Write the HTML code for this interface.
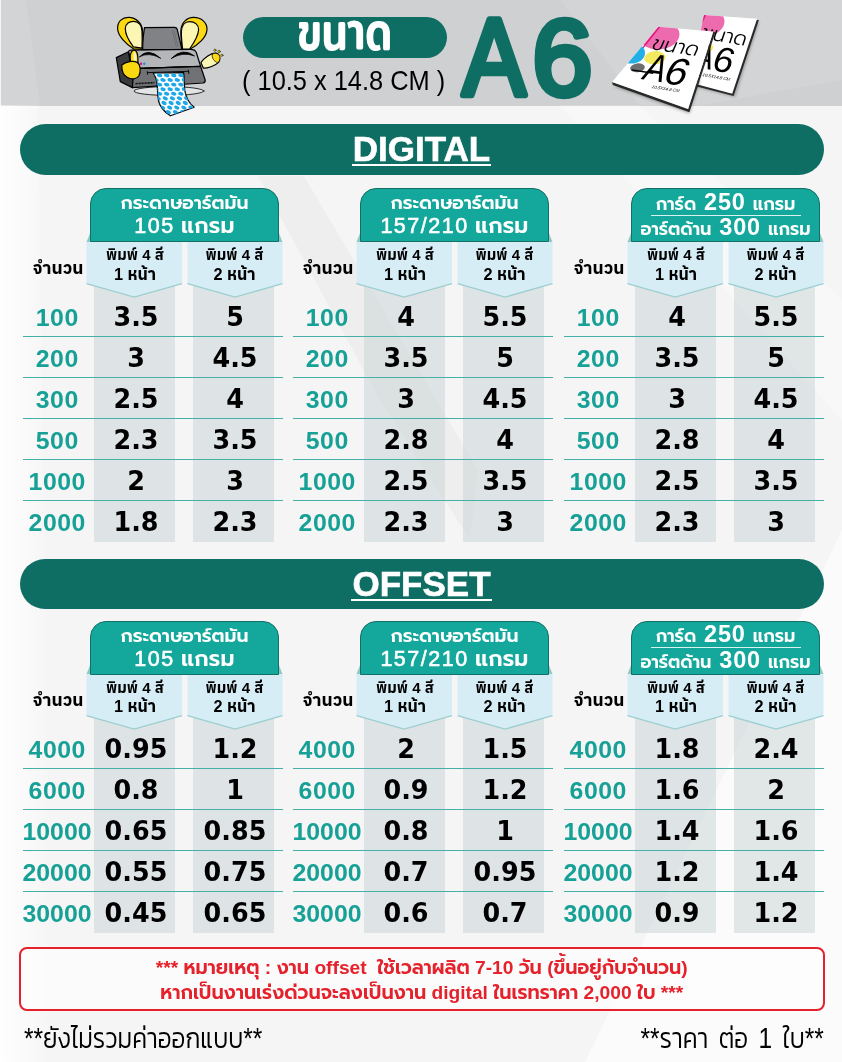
<!DOCTYPE html>
<html lang="th"><head><meta charset="utf-8"><title>A6 price</title>
<style>
html,body{margin:0;padding:0}
body{width:842px;height:1062px;position:relative;overflow:hidden;background:#f5f5f6;font-family:"Liberation Sans","Noto Sans Thai",sans-serif}
.abs{position:absolute}
.band{position:absolute;left:1px;top:0;width:841px;height:105.5px;background:#cfd0d1}
.bar{position:absolute;left:19.5px;width:804px;height:50.5px;border-radius:26px;background:#0f6e63;color:#fff;text-align:center;font-weight:bold;font-size:35px;line-height:50px}
.bar span{display:inline-block;border-bottom:2px solid #fff;line-height:27px;padding:0 1px 2px;-webkit-text-stroke:0.6px #fff}
.thead{position:absolute;width:187px;height:52px;border:1px solid #146f65;border-radius:16px 16px 0 0;background:#13a89b;color:#fff;text-align:center;font-family:"Liberation Sans","Prompt","Kanit","Noto Sans Thai","Loma",sans-serif;font-weight:600}
.h1{font-size:18.8px;line-height:26px;margin-top:1px;white-space:nowrap}
.h2{font-size:22px;line-height:24px;margin-top:-2px;white-space:nowrap;letter-spacing:0.2px}
.d{font-weight:400;font-size:21.5px;-webkit-text-stroke:0.6px #fff;letter-spacing:1.5px}
.h3a,.h3b{font-size:17.8px;line-height:24px;white-space:nowrap}
.h3a{margin-top:3.8px;line-height:19.8px}
.h3b{margin-top:-0.3px}
.h3a b,.h3b b{font-size:23.5px;font-weight:700;letter-spacing:0.8px;margin:0 2px 0 3px}
.hr{height:1px;background:#d8f0ee;width:150px;margin:0 auto}
.gcol{position:absolute;width:81px;background:rgba(200,210,212,.5)}
.btxt{position:absolute;width:100px;text-align:center;font-family:"Liberation Sans","Anuphan","Noto Sans Thai UI","Noto Sans Thai","Kanit","Loma",sans-serif;font-weight:700;font-size:15px;line-height:19.5px;color:#000;white-space:nowrap}
.b2{font-size:16.3px}
.qty{position:absolute;width:80px;text-align:center;font-family:"Liberation Sans","Anuphan","Noto Sans Thai UI","Noto Sans Thai","Kanit","Loma",sans-serif;font-weight:700;font-size:17.6px;line-height:24px;color:#000;white-space:nowrap}
.q{position:absolute;width:90px;text-align:center;font-family:"Liberation Sans",sans-serif;font-weight:bold;font-size:23px;line-height:30px;color:#17a196;letter-spacing:0.5px;text-indent:0.5px;transform:scaleX(1.08);white-space:nowrap}
.q5{letter-spacing:0;text-indent:0}
.v{position:absolute;width:90px;text-align:center;font-family:"DejaVu Sans","Liberation Sans",sans-serif;font-weight:bold;font-size:26.5px;line-height:34px;color:#000;white-space:nowrap;transform:scaleX(.96)}
.ln{position:absolute;width:259.5px;height:1.6px;background:#45b0a8}
.note{position:absolute;left:18.5px;top:947.3px;width:802.5px;height:60px;border:2px solid #e5212b;border-radius:8px;background:rgba(255,255,255,.6);color:#e5212b;text-align:center;font-family:"Liberation Sans","Prompt","Kanit","Noto Sans Thai","Loma",sans-serif;font-weight:600;font-size:19.2px;line-height:25px;white-space:nowrap}
.foot{position:absolute;top:1018.3px;font-family:"Liberation Sans","Kanit","Prompt","Noto Sans Thai",sans-serif;font-weight:300;font-size:29.5px;line-height:40px;color:#000;white-space:nowrap;transform:scaleX(.83)}
.pill{position:absolute;left:242.5px;top:17px;width:204px;height:41px;border-radius:21px;background:#0f6e63;color:#fff;text-align:center;font-family:"Liberation Sans","Mitr","Kanit","Noto Sans Thai",sans-serif;font-weight:500;font-size:53px;line-height:41px}
.pill span{display:inline-block;transform:scaleX(.775);position:relative;top:-6px}
.dim{position:absolute;left:241.5px;top:64px;font-size:28px;line-height:34px;color:#000;white-space:nowrap;transform:scaleX(.907);transform-origin:0 0}
</style></head><body>
<div class="band"></div>
<svg class="abs" style="left:0;top:0" width="842" height="1062" viewBox="0 0 842 1062">
<defs>
<linearGradient id="lg1" x1="0" x2="1" y1="0" y2="0"><stop offset="0" stop-color="#fff" stop-opacity=".95"/><stop offset="1" stop-color="#fff" stop-opacity="0"/></linearGradient>
<linearGradient id="lg2" x1="0" x2="1" y1="0" y2="1"><stop offset="0" stop-color="#fff" stop-opacity="0"/><stop offset="1" stop-color="#fff" stop-opacity=".7"/></linearGradient>
</defs>
<polygon points="1,0 26,0 40,105.5 1,105.5" fill="#fff" opacity=".10"/>
<polygon points="560,0 842,0 842,80 700,105.5 640,105.5" fill="#fff" opacity=".10"/>
<polygon points="0,105.5 38,105.5 52,1062 0,1062" fill="url(#lg1)"/>
<polygon points="258,176 304,176 478,470 470,540 380,400" fill="#000" opacity=".028"/>
<polygon points="842,530 842,1062 585,1062" fill="#fff" opacity=".55"/>
<polygon points="560,105.5 640,105.5 842,300 842,420" fill="#fff" opacity=".35"/>
</svg>

<svg class="abs" style="left:100px;top:0" width="140" height="120" viewBox="100 0 140 120">
<g stroke="#000" stroke-width="1.2" stroke-linejoin="round" stroke-linecap="round">
<!-- base ellipse -->
<ellipse cx="169" cy="91" rx="35" ry="4.4" fill="#e3e4e5" stroke-width="0.8"/>
<!-- tray -->
<path d="M144.5,27.6 L174.5,27.4 Q176.5,27.4 177.2,29.3 L182,49.5 L141.5,49.5 Z" fill="#808285"/>
<path d="M172.3,30.5 L176.2,46.5 M174,30.5 L177.9,46.5" fill="none" stroke="#55565a" stroke-width="0.4"/>
<!-- left side face -->
<path d="M116.3,57.6 L128.5,51.8 L133,80 L132.4,87.6 L120.3,81.6 Z" fill="#3b3b3e"/>
<!-- top face -->
<path d="M128.5,51.8 Q129,50.3 131,50.2 L190.5,49.4 Q195,49.4 196.3,52.5 L200.6,66.3 L133.8,68.6 Z" fill="#b4b6b9"/>
<!-- front face -->
<path d="M133.8,68.6 L200.6,66.3 L205.2,80 Q205.6,82.3 203,83 L132.4,87.6 Z" fill="#717275"/>
<path d="M133.8,68.6 L200.6,66.3" fill="none" stroke-width="1.1"/>
<!-- slot -->
<path d="M147.3,71.6 L147.6,74.3 M147.3,72.6 L188.5,71.3 M188.5,70.2 L188.8,73.6" fill="none" stroke-width="0.9"/>
<!-- brand squiggle -->
<path d="M135.5,83.7 L154.5,82.6" fill="none" stroke="#111" stroke-width="1.6" stroke-dasharray="2.2 0.8" stroke-linecap="butt"/>
<!-- eyes -->
<path d="M139.5,56.8 Q148.5,47.2 160.8,58.4 Q148.8,51.6 139.5,56.8 Z" fill="#000" stroke-width="0.7"/>
<path d="M171.4,58.4 Q182.5,46.8 194.6,56 Q182.8,51.4 171.4,58.4 Z" fill="#000" stroke-width="0.7"/>
<!-- dots -->
<circle cx="141" cy="63.7" r="1.25" fill="#d6147f" stroke="none"/>
<circle cx="144.3" cy="63.7" r="1.25" fill="#1597d4" stroke="none"/>
<!-- left ear -->
<path d="M133.4,48.8 C126,44 117.8,36 117.6,28.5 C117.5,21 122.5,17.3 128.5,17.4 C136,17.6 142,23 142.6,31 C143,37 142.9,44 142.7,49.2 Z" fill="#fcd813"/>
<path d="M133.4,46.8 C129,41 125.2,34 125.3,28.5 C125.5,23.5 129.5,21.2 133.5,21.3 C138.5,21.5 141.8,25 142,31 C142.3,37 142.2,43 142,48.2 Z" fill="#fcf6b5"/>
<!-- right ear -->
<path d="M182.2,49.2 C181.5,43 180.6,36 180.9,30.5 C181.5,22.5 187,17.4 193.5,17.4 C201.5,17.4 207.2,22.5 207,29.5 C206.6,38 197,45.5 189.8,49.3 Z" fill="#fcd813"/>
<path d="M182.6,49 C181.9,43 181.2,36.5 181.4,31.5 C181.8,25.5 185,21.6 189.5,21.6 C195,21.6 198.8,25 198.6,29.8 C198.3,36 193.5,43.5 189.6,49 Z" fill="#fcf6b5"/>
<!-- thumb -->
<path d="M130.6,61.5 C129.8,57 130.2,52 133.2,50.2 C136.2,49.5 137.6,53 137.8,57 L138,62.5 Z" fill="#fcd813"/>
<path d="M134.2,51.5 C136,52 136.6,56 136.6,61 L133.6,60.5 C133.2,57 133.2,53.5 134.2,51.5 Z" fill="#fcf6b5" stroke="none"/>
<!-- fist -->
<path d="M121.8,65 C126,61.5 133,60.5 137,62.2 C140.5,64.5 141.2,71.5 138.8,76 C136.5,79.5 131.5,79.6 127.5,77.5 C123.5,75.5 121.6,70.5 121.8,65 Z" fill="#fcd813"/>
<!-- right hand -->
<path d="M200.9,62.6 C204,58 211,52.6 216,53.2 C219.8,54 220.8,59 218.6,62.4 C215,66 207,68.4 203.4,68.2 Z" fill="#fcf6b5"/>
<path d="M212.2,54.2 C214.5,52.6 218.5,53 219.8,56.5 C220.4,59.5 219.3,61.8 217.6,62.6 C214,61.5 211.6,58 212.2,54.2 Z" fill="#fcd813" stroke-width="0.7"/>
<circle cx="214.9" cy="50.2" r="1.15" fill="#fcd813" stroke-width="0.5"/>
<circle cx="219.1" cy="51.5" r="1.2" fill="#fcd813" stroke-width="0.5"/>
<circle cx="221.9" cy="55.3" r="1.1" fill="#fcd813" stroke-width="0.5"/>
<!-- paper -->
<path id="pp" d="M153.3,73 L183.7,72.6 C184.2,78 184.2,85 184.8,90.6 C186,98 190,104 194.2,107.2 L170.4,115.8 C164.5,112 160,107 158.6,101 C157.4,95 157.6,88 157,83 C156.5,78.5 155,75.5 153.3,73 Z" fill="#fff"/>
</g>
<clipPath id="ppc"><path d="M153.3,73 L183.7,72.6 C184.2,78 184.2,85 184.8,90.6 C186,98 190,104 194.2,107.2 L170.4,115.8 C164.5,112 160,107 158.6,101 C157.4,95 157.6,88 157,83 C156.5,78.5 155,75.5 153.3,73 Z"/></clipPath>
<g clip-path="url(#ppc)" fill="#1ea8ea">
<ellipse cx="145.4" cy="75.4" rx="2.75" ry="1.85" transform="rotate(12 145.4 75.4)"/>
<ellipse cx="152.5" cy="75.4" rx="2.75" ry="1.85" transform="rotate(12 152.5 75.4)"/>
<ellipse cx="159.6" cy="75.4" rx="2.75" ry="1.85" transform="rotate(12 159.6 75.4)"/>
<ellipse cx="166.7" cy="75.4" rx="2.75" ry="1.85" transform="rotate(12 166.7 75.4)"/>
<ellipse cx="173.8" cy="75.4" rx="2.75" ry="1.85" transform="rotate(12 173.8 75.4)"/>
<ellipse cx="180.9" cy="75.4" rx="2.75" ry="1.85" transform="rotate(12 180.9 75.4)"/>
<ellipse cx="188.0" cy="75.4" rx="2.75" ry="1.85" transform="rotate(12 188.0 75.4)"/>
<ellipse cx="195.1" cy="75.4" rx="2.75" ry="1.85" transform="rotate(12 195.1 75.4)"/>
<ellipse cx="148.9" cy="80.0" rx="2.75" ry="1.85" transform="rotate(12 148.9 80.0)"/>
<ellipse cx="156.0" cy="80.0" rx="2.75" ry="1.85" transform="rotate(12 156.0 80.0)"/>
<ellipse cx="163.1" cy="80.0" rx="2.75" ry="1.85" transform="rotate(12 163.1 80.0)"/>
<ellipse cx="170.2" cy="80.0" rx="2.75" ry="1.85" transform="rotate(12 170.2 80.0)"/>
<ellipse cx="177.3" cy="80.0" rx="2.75" ry="1.85" transform="rotate(12 177.3 80.0)"/>
<ellipse cx="184.4" cy="80.0" rx="2.75" ry="1.85" transform="rotate(12 184.4 80.0)"/>
<ellipse cx="191.5" cy="80.0" rx="2.75" ry="1.85" transform="rotate(12 191.5 80.0)"/>
<ellipse cx="198.6" cy="80.0" rx="2.75" ry="1.85" transform="rotate(12 198.6 80.0)"/>
<ellipse cx="145.4" cy="84.6" rx="2.75" ry="1.85" transform="rotate(12 145.4 84.6)"/>
<ellipse cx="152.5" cy="84.6" rx="2.75" ry="1.85" transform="rotate(12 152.5 84.6)"/>
<ellipse cx="159.6" cy="84.6" rx="2.75" ry="1.85" transform="rotate(12 159.6 84.6)"/>
<ellipse cx="166.7" cy="84.6" rx="2.75" ry="1.85" transform="rotate(12 166.7 84.6)"/>
<ellipse cx="173.8" cy="84.6" rx="2.75" ry="1.85" transform="rotate(12 173.8 84.6)"/>
<ellipse cx="180.9" cy="84.6" rx="2.75" ry="1.85" transform="rotate(12 180.9 84.6)"/>
<ellipse cx="188.0" cy="84.6" rx="2.75" ry="1.85" transform="rotate(12 188.0 84.6)"/>
<ellipse cx="195.1" cy="84.6" rx="2.75" ry="1.85" transform="rotate(12 195.1 84.6)"/>
<ellipse cx="148.9" cy="89.2" rx="2.75" ry="1.85" transform="rotate(12 148.9 89.2)"/>
<ellipse cx="156.0" cy="89.2" rx="2.75" ry="1.85" transform="rotate(12 156.0 89.2)"/>
<ellipse cx="163.1" cy="89.2" rx="2.75" ry="1.85" transform="rotate(12 163.1 89.2)"/>
<ellipse cx="170.2" cy="89.2" rx="2.75" ry="1.85" transform="rotate(12 170.2 89.2)"/>
<ellipse cx="177.3" cy="89.2" rx="2.75" ry="1.85" transform="rotate(12 177.3 89.2)"/>
<ellipse cx="184.4" cy="89.2" rx="2.75" ry="1.85" transform="rotate(12 184.4 89.2)"/>
<ellipse cx="191.5" cy="89.2" rx="2.75" ry="1.85" transform="rotate(12 191.5 89.2)"/>
<ellipse cx="198.6" cy="89.2" rx="2.75" ry="1.85" transform="rotate(12 198.6 89.2)"/>
<ellipse cx="145.4" cy="93.8" rx="2.75" ry="1.85" transform="rotate(12 145.4 93.8)"/>
<ellipse cx="152.5" cy="93.8" rx="2.75" ry="1.85" transform="rotate(12 152.5 93.8)"/>
<ellipse cx="159.6" cy="93.8" rx="2.75" ry="1.85" transform="rotate(12 159.6 93.8)"/>
<ellipse cx="166.7" cy="93.8" rx="2.75" ry="1.85" transform="rotate(12 166.7 93.8)"/>
<ellipse cx="173.8" cy="93.8" rx="2.75" ry="1.85" transform="rotate(12 173.8 93.8)"/>
<ellipse cx="180.9" cy="93.8" rx="2.75" ry="1.85" transform="rotate(12 180.9 93.8)"/>
<ellipse cx="188.0" cy="93.8" rx="2.75" ry="1.85" transform="rotate(12 188.0 93.8)"/>
<ellipse cx="195.1" cy="93.8" rx="2.75" ry="1.85" transform="rotate(12 195.1 93.8)"/>
<ellipse cx="151.1" cy="98.4" rx="2.75" ry="1.85" transform="rotate(25 151.1 98.4)"/>
<ellipse cx="158.2" cy="98.4" rx="2.75" ry="1.85" transform="rotate(25 158.2 98.4)"/>
<ellipse cx="165.3" cy="98.4" rx="2.75" ry="1.85" transform="rotate(25 165.3 98.4)"/>
<ellipse cx="172.4" cy="98.4" rx="2.75" ry="1.85" transform="rotate(25 172.4 98.4)"/>
<ellipse cx="179.5" cy="98.4" rx="2.75" ry="1.85" transform="rotate(25 179.5 98.4)"/>
<ellipse cx="186.6" cy="98.4" rx="2.75" ry="1.85" transform="rotate(25 186.6 98.4)"/>
<ellipse cx="193.7" cy="98.4" rx="2.75" ry="1.85" transform="rotate(25 193.7 98.4)"/>
<ellipse cx="200.8" cy="98.4" rx="2.75" ry="1.85" transform="rotate(25 200.8 98.4)"/>
<ellipse cx="149.8" cy="103.0" rx="2.75" ry="1.85" transform="rotate(25 149.8 103.0)"/>
<ellipse cx="156.9" cy="103.0" rx="2.75" ry="1.85" transform="rotate(25 156.9 103.0)"/>
<ellipse cx="164.0" cy="103.0" rx="2.75" ry="1.85" transform="rotate(25 164.0 103.0)"/>
<ellipse cx="171.1" cy="103.0" rx="2.75" ry="1.85" transform="rotate(25 171.1 103.0)"/>
<ellipse cx="178.2" cy="103.0" rx="2.75" ry="1.85" transform="rotate(25 178.2 103.0)"/>
<ellipse cx="185.3" cy="103.0" rx="2.75" ry="1.85" transform="rotate(25 185.3 103.0)"/>
<ellipse cx="192.4" cy="103.0" rx="2.75" ry="1.85" transform="rotate(25 192.4 103.0)"/>
<ellipse cx="199.5" cy="103.0" rx="2.75" ry="1.85" transform="rotate(25 199.5 103.0)"/>
<ellipse cx="155.5" cy="107.6" rx="2.75" ry="1.85" transform="rotate(25 155.5 107.6)"/>
<ellipse cx="162.6" cy="107.6" rx="2.75" ry="1.85" transform="rotate(25 162.6 107.6)"/>
<ellipse cx="169.7" cy="107.6" rx="2.75" ry="1.85" transform="rotate(25 169.7 107.6)"/>
<ellipse cx="176.8" cy="107.6" rx="2.75" ry="1.85" transform="rotate(25 176.8 107.6)"/>
<ellipse cx="183.9" cy="107.6" rx="2.75" ry="1.85" transform="rotate(25 183.9 107.6)"/>
<ellipse cx="191.0" cy="107.6" rx="2.75" ry="1.85" transform="rotate(25 191.0 107.6)"/>
<ellipse cx="198.1" cy="107.6" rx="2.75" ry="1.85" transform="rotate(25 198.1 107.6)"/>
<ellipse cx="205.2" cy="107.6" rx="2.75" ry="1.85" transform="rotate(25 205.2 107.6)"/>
<ellipse cx="154.2" cy="112.2" rx="2.75" ry="1.85" transform="rotate(25 154.2 112.2)"/>
<ellipse cx="161.3" cy="112.2" rx="2.75" ry="1.85" transform="rotate(25 161.3 112.2)"/>
<ellipse cx="168.4" cy="112.2" rx="2.75" ry="1.85" transform="rotate(25 168.4 112.2)"/>
<ellipse cx="175.5" cy="112.2" rx="2.75" ry="1.85" transform="rotate(25 175.5 112.2)"/>
<ellipse cx="182.6" cy="112.2" rx="2.75" ry="1.85" transform="rotate(25 182.6 112.2)"/>
<ellipse cx="189.7" cy="112.2" rx="2.75" ry="1.85" transform="rotate(25 189.7 112.2)"/>
<ellipse cx="196.8" cy="112.2" rx="2.75" ry="1.85" transform="rotate(25 196.8 112.2)"/>
<ellipse cx="203.9" cy="112.2" rx="2.75" ry="1.85" transform="rotate(25 203.9 112.2)"/>
<ellipse cx="159.9" cy="116.8" rx="2.75" ry="1.85" transform="rotate(25 159.9 116.8)"/>
<ellipse cx="167.0" cy="116.8" rx="2.75" ry="1.85" transform="rotate(25 167.0 116.8)"/>
<ellipse cx="174.1" cy="116.8" rx="2.75" ry="1.85" transform="rotate(25 174.1 116.8)"/>
<ellipse cx="181.2" cy="116.8" rx="2.75" ry="1.85" transform="rotate(25 181.2 116.8)"/>
<ellipse cx="188.3" cy="116.8" rx="2.75" ry="1.85" transform="rotate(25 188.3 116.8)"/>
<ellipse cx="195.4" cy="116.8" rx="2.75" ry="1.85" transform="rotate(25 195.4 116.8)"/>
<ellipse cx="202.5" cy="116.8" rx="2.75" ry="1.85" transform="rotate(25 202.5 116.8)"/>
<ellipse cx="209.6" cy="116.8" rx="2.75" ry="1.85" transform="rotate(25 209.6 116.8)"/>
</g>
</svg>

<div class="pill"><span>ขนาด</span></div>
<div class="dim">( 10.5 x 14.8 CM )</div>
<svg class="abs" style="left:450px;top:0" width="160" height="110" viewBox="450 0 160 110"><g font-family='"Liberation Sans",sans-serif' font-size="110" fill="#0f6e63" stroke="#0f6e63" stroke-width="6.5" stroke-linejoin="round"><text transform="translate(462.6,95.2) scale(0.86,1)" x="0" y="0">A</text><text transform="translate(532.2,95) scale(0.985,0.975)" x="0" y="0">6</text></g></svg>
<svg class="abs" style="left:600px;top:0" width="180" height="120" viewBox="600 0 180 120" font-family='"Liberation Sans","Prompt","Kanit","Noto Sans Thai",sans-serif'>
<defs>
<clipPath id="bk"><polygon points="704,15.1 757.1,18.7 732.2,93.8 690,82.5"/></clipPath>
<clipPath id="fr"><polygon points="658.4,26.8 713.3,31.4 688.1,109 612.1,82"/></clipPath>
<filter id="sh" x="-20%" y="-20%" width="140%" height="140%"><feGaussianBlur stdDeviation="1.6"/></filter>
</defs>
<!-- back paper -->
<polygon points="705,19 759,22 735,97 692,86" fill="#000" opacity=".28" filter="url(#sh)"/>
<polygon points="705.3,16.3 758.9,20 733.6,96 691,85" fill="#2a2a2a"/>
<polygon points="704,15.1 757.1,18.7 732.2,93.8 690,82.5" fill="#fff"/>
<g clip-path="url(#bk)">
<ellipse cx="708" cy="22" rx="16.5" ry="13.5" transform="rotate(-8 708 22)" fill="#ee6aae"/><polygon points="704,15.1 706,15.2 693,42 691,42" fill="#e2127c"/>
<ellipse cx="706" cy="47.5" rx="7" ry="5" fill="#f3ea5f"/>
<g transform="matrix(0.985,0.17,-0.32,0.95,0,0)" fill="#000">
<text x="683.9" y="-82.4" font-size="20" font-weight="300">ขนาด</text>
<text transform="translate(685,-52.6) scale(.8,1)" font-size="36" font-weight="300">A</text><text x="704" y="-52.4" font-size="36" font-weight="300">6</text>
<text x="698.1" y="-44.9" font-size="4.4" font-style="italic">10.5X14.8 CM</text>
</g>
</g>
<!-- front paper -->
<polygon points="613,86 689.5,113.5 715,35 700,80" fill="#000" opacity=".30" filter="url(#sh)"/>
<polygon points="612.1,82 612.8,85 689.4,112.2 715.2,32.8 713.3,31.4 688.1,109" fill="#2a2a2a"/>
<polygon points="658.4,26.8 713.3,31.4 688.1,109 612.1,82" fill="#fff"/>
<g clip-path="url(#fr)">
<ellipse cx="659" cy="35" rx="20.5" ry="14.5" transform="rotate(-4 659 35)" fill="#ee6aae"/>
<polygon points="658.4,26.8 660.2,26.95 643.6,48 642,48" fill="#e2127c"/>
<ellipse cx="631.5" cy="53" rx="13.5" ry="10.5" fill="#22afe7"/>
<ellipse cx="654.9" cy="57.7" rx="10.7" ry="6.6" transform="rotate(-5 654.9 57.7)" fill="#f3ea5f"/>
<ellipse cx="637.5" cy="67.8" rx="7.4" ry="4.4" transform="rotate(-8 637.5 67.8)" fill="#6d6e70"/>
<g transform="matrix(0.988,0.152,-0.40,0.92,0,0)" fill="#000">
<text x="637.3" y="-52" font-size="20.5" font-weight="300">ขนาด</text>
<text transform="translate(640.2,-19.9) scale(.8,1)" font-size="40" font-weight="300">A</text><text x="661.2" y="-19.4" font-size="40" font-weight="300">6</text>
<rect x="628" y="-28.5" width="22" height="1.5"/>
<text x="654.2" y="-12.4" font-size="4.4" font-style="italic">10.5X14.8 CM</text>
</g>
</g>
</svg>

<div class="bar" style="top:124px"><span>DIGITAL</span></div>
<div class="gcol" style="left:94px;top:248px;height:293.5px"></div>
<div class="gcol" style="left:193px;top:248px;height:293.5px"></div>
<svg class="abs" style="left:86px;top:230.5px" width="200" height="70" viewBox="0 0 200 70"><polygon points="0.5,11 4.5,1 4.5,11" fill="#8fc9c6"/><polygon points="196.5,11 192.5,1 192.5,11" fill="#8fc9c6"/><polygon points="0.5,11 96,11 96,52.6 48.2,66.1 0.5,52.6" fill="#d6edf6"/><polygon points="101.5,11 196.5,11 196.5,52.6 149,66.1 101.5,52.6" fill="#d6edf6"/><path d="M0.5,52.6L48.2,66.1L96,52.6M101.5,52.6L149,66.1L196.5,52.6" fill="none" stroke="#9ccfce" stroke-width="1.4"/></svg>
<div class="thead" style="left:90px;top:188px"><div class="h1">กระดาษอาร์ตมัน</div><div class="h2"><span class="d">105</span> แกรม</div></div>
<div class="btxt" style="left:85px;top:245.3px">พิมพ์ 4 สี<br><span class="b2">1 หน้า</span></div>
<div class="btxt" style="left:184.5px;top:245.3px">พิมพ์ 4 สี<br><span class="b2">2 หน้า</span></div>
<div class="qty" style="left:18px;top:255.5px">จำนวน</div>
<div class="q" style="left:12px;top:303.1px">100</div>
<div class="v" style="left:91px;top:300.4px">3.5</div>
<div class="v" style="left:190px;top:300.4px">5</div>
<div class="ln" style="left:23px;top:335.9px"></div>
<div class="q" style="left:12px;top:344.1px">200</div>
<div class="v" style="left:91px;top:341.3px">3</div>
<div class="v" style="left:190px;top:341.3px">4.5</div>
<div class="ln" style="left:23px;top:376.8px"></div>
<div class="q" style="left:12px;top:385.0px">300</div>
<div class="v" style="left:91px;top:382.3px">2.5</div>
<div class="v" style="left:190px;top:382.3px">4</div>
<div class="ln" style="left:23px;top:417.8px"></div>
<div class="q" style="left:12px;top:426.0px">500</div>
<div class="v" style="left:91px;top:423.2px">2.3</div>
<div class="v" style="left:190px;top:423.2px">3.5</div>
<div class="ln" style="left:23px;top:458.7px"></div>
<div class="q" style="left:12px;top:466.9px">1000</div>
<div class="v" style="left:91px;top:464.2px">2</div>
<div class="v" style="left:190px;top:464.2px">3</div>
<div class="ln" style="left:23px;top:499.7px"></div>
<div class="q" style="left:12px;top:507.9px">2000</div>
<div class="v" style="left:91px;top:505.1px">1.8</div>
<div class="v" style="left:190px;top:505.1px">2.3</div>
<div class="gcol" style="left:364px;top:248px;height:293.5px"></div>
<div class="gcol" style="left:463px;top:248px;height:293.5px"></div>
<svg class="abs" style="left:356px;top:230.5px" width="200" height="70" viewBox="0 0 200 70"><polygon points="0.5,11 4.5,1 4.5,11" fill="#8fc9c6"/><polygon points="196.5,11 192.5,1 192.5,11" fill="#8fc9c6"/><polygon points="0.5,11 96,11 96,52.6 48.2,66.1 0.5,52.6" fill="#d6edf6"/><polygon points="101.5,11 196.5,11 196.5,52.6 149,66.1 101.5,52.6" fill="#d6edf6"/><path d="M0.5,52.6L48.2,66.1L96,52.6M101.5,52.6L149,66.1L196.5,52.6" fill="none" stroke="#9ccfce" stroke-width="1.4"/></svg>
<div class="thead" style="left:360px;top:188px"><div class="h1">กระดาษอาร์ตมัน</div><div class="h2"><span class="d">157/210</span> แกรม</div></div>
<div class="btxt" style="left:355px;top:245.3px">พิมพ์ 4 สี<br><span class="b2">1 หน้า</span></div>
<div class="btxt" style="left:454.5px;top:245.3px">พิมพ์ 4 สี<br><span class="b2">2 หน้า</span></div>
<div class="qty" style="left:288px;top:255.5px">จำนวน</div>
<div class="q" style="left:282px;top:303.1px">100</div>
<div class="v" style="left:361px;top:300.4px">4</div>
<div class="v" style="left:460px;top:300.4px">5.5</div>
<div class="ln" style="left:293px;top:335.9px"></div>
<div class="q" style="left:282px;top:344.1px">200</div>
<div class="v" style="left:361px;top:341.3px">3.5</div>
<div class="v" style="left:460px;top:341.3px">5</div>
<div class="ln" style="left:293px;top:376.8px"></div>
<div class="q" style="left:282px;top:385.0px">300</div>
<div class="v" style="left:361px;top:382.3px">3</div>
<div class="v" style="left:460px;top:382.3px">4.5</div>
<div class="ln" style="left:293px;top:417.8px"></div>
<div class="q" style="left:282px;top:426.0px">500</div>
<div class="v" style="left:361px;top:423.2px">2.8</div>
<div class="v" style="left:460px;top:423.2px">4</div>
<div class="ln" style="left:293px;top:458.7px"></div>
<div class="q" style="left:282px;top:466.9px">1000</div>
<div class="v" style="left:361px;top:464.2px">2.5</div>
<div class="v" style="left:460px;top:464.2px">3.5</div>
<div class="ln" style="left:293px;top:499.7px"></div>
<div class="q" style="left:282px;top:507.9px">2000</div>
<div class="v" style="left:361px;top:505.1px">2.3</div>
<div class="v" style="left:460px;top:505.1px">3</div>
<div class="gcol" style="left:635px;top:248px;height:293.5px"></div>
<div class="gcol" style="left:734px;top:248px;height:293.5px"></div>
<svg class="abs" style="left:627px;top:230.5px" width="200" height="70" viewBox="0 0 200 70"><polygon points="0.5,11 4.5,1 4.5,11" fill="#8fc9c6"/><polygon points="196.5,11 192.5,1 192.5,11" fill="#8fc9c6"/><polygon points="0.5,11 96,11 96,52.6 48.2,66.1 0.5,52.6" fill="#d6edf6"/><polygon points="101.5,11 196.5,11 196.5,52.6 149,66.1 101.5,52.6" fill="#d6edf6"/><path d="M0.5,52.6L48.2,66.1L96,52.6M101.5,52.6L149,66.1L196.5,52.6" fill="none" stroke="#9ccfce" stroke-width="1.4"/></svg>
<div class="thead" style="left:631px;top:188px"><div class="h3a">การ์ด <b>250</b> แกรม</div><div class="hr"></div><div class="h3b">อาร์ตด้าน <b>300</b> แกรม</div></div>
<div class="btxt" style="left:626px;top:245.3px">พิมพ์ 4 สี<br><span class="b2">1 หน้า</span></div>
<div class="btxt" style="left:725.5px;top:245.3px">พิมพ์ 4 สี<br><span class="b2">2 หน้า</span></div>
<div class="qty" style="left:559px;top:255.5px">จำนวน</div>
<div class="q" style="left:553px;top:303.1px">100</div>
<div class="v" style="left:632px;top:300.4px">4</div>
<div class="v" style="left:731px;top:300.4px">5.5</div>
<div class="ln" style="left:564px;top:335.9px"></div>
<div class="q" style="left:553px;top:344.1px">200</div>
<div class="v" style="left:632px;top:341.3px">3.5</div>
<div class="v" style="left:731px;top:341.3px">5</div>
<div class="ln" style="left:564px;top:376.8px"></div>
<div class="q" style="left:553px;top:385.0px">300</div>
<div class="v" style="left:632px;top:382.3px">3</div>
<div class="v" style="left:731px;top:382.3px">4.5</div>
<div class="ln" style="left:564px;top:417.8px"></div>
<div class="q" style="left:553px;top:426.0px">500</div>
<div class="v" style="left:632px;top:423.2px">2.8</div>
<div class="v" style="left:731px;top:423.2px">4</div>
<div class="ln" style="left:564px;top:458.7px"></div>
<div class="q" style="left:553px;top:466.9px">1000</div>
<div class="v" style="left:632px;top:464.2px">2.5</div>
<div class="v" style="left:731px;top:464.2px">3.5</div>
<div class="ln" style="left:564px;top:499.7px"></div>
<div class="q" style="left:553px;top:507.9px">2000</div>
<div class="v" style="left:632px;top:505.1px">2.3</div>
<div class="v" style="left:731px;top:505.1px">3</div>
<div class="bar" style="top:559px;height:50px"><span>OFFSET</span></div>
<div class="gcol" style="left:94px;top:680.5px;height:252.0px"></div>
<div class="gcol" style="left:193px;top:680.5px;height:252.0px"></div>
<svg class="abs" style="left:86px;top:663.0px" width="200" height="70" viewBox="0 0 200 70"><polygon points="0.5,11 4.5,1 4.5,11" fill="#8fc9c6"/><polygon points="196.5,11 192.5,1 192.5,11" fill="#8fc9c6"/><polygon points="0.5,11 96,11 96,52.6 48.2,66.1 0.5,52.6" fill="#d6edf6"/><polygon points="101.5,11 196.5,11 196.5,52.6 149,66.1 101.5,52.6" fill="#d6edf6"/><path d="M0.5,52.6L48.2,66.1L96,52.6M101.5,52.6L149,66.1L196.5,52.6" fill="none" stroke="#9ccfce" stroke-width="1.4"/></svg>
<div class="thead" style="left:90px;top:620.5px"><div class="h1">กระดาษอาร์ตมัน</div><div class="h2"><span class="d">105</span> แกรม</div></div>
<div class="btxt" style="left:85px;top:677.8px">พิมพ์ 4 สี<br><span class="b2">1 หน้า</span></div>
<div class="btxt" style="left:184.5px;top:677.8px">พิมพ์ 4 สี<br><span class="b2">2 หน้า</span></div>
<div class="qty" style="left:18px;top:688.0px">จำนวน</div>
<div class="q" style="left:12px;top:735.1px">4000</div>
<div class="v" style="left:91px;top:732.4px">0.95</div>
<div class="v" style="left:190px;top:732.4px">1.2</div>
<div class="ln" style="left:23px;top:767.9px"></div>
<div class="q" style="left:12px;top:776.1px">6000</div>
<div class="v" style="left:91px;top:773.4px">0.8</div>
<div class="v" style="left:190px;top:773.4px">1</div>
<div class="ln" style="left:23px;top:808.9px"></div>
<div class="q q5" style="left:12px;top:817.1px">10000</div>
<div class="v" style="left:91px;top:814.4px">0.65</div>
<div class="v" style="left:190px;top:814.4px">0.85</div>
<div class="ln" style="left:23px;top:849.9px"></div>
<div class="q q5" style="left:12px;top:858.1px">20000</div>
<div class="v" style="left:91px;top:855.4px">0.55</div>
<div class="v" style="left:190px;top:855.4px">0.75</div>
<div class="ln" style="left:23px;top:890.9px"></div>
<div class="q q5" style="left:12px;top:899.1px">30000</div>
<div class="v" style="left:91px;top:896.4px">0.45</div>
<div class="v" style="left:190px;top:896.4px">0.65</div>
<div class="gcol" style="left:364px;top:680.5px;height:252.0px"></div>
<div class="gcol" style="left:463px;top:680.5px;height:252.0px"></div>
<svg class="abs" style="left:356px;top:663.0px" width="200" height="70" viewBox="0 0 200 70"><polygon points="0.5,11 4.5,1 4.5,11" fill="#8fc9c6"/><polygon points="196.5,11 192.5,1 192.5,11" fill="#8fc9c6"/><polygon points="0.5,11 96,11 96,52.6 48.2,66.1 0.5,52.6" fill="#d6edf6"/><polygon points="101.5,11 196.5,11 196.5,52.6 149,66.1 101.5,52.6" fill="#d6edf6"/><path d="M0.5,52.6L48.2,66.1L96,52.6M101.5,52.6L149,66.1L196.5,52.6" fill="none" stroke="#9ccfce" stroke-width="1.4"/></svg>
<div class="thead" style="left:360px;top:620.5px"><div class="h1">กระดาษอาร์ตมัน</div><div class="h2"><span class="d">157/210</span> แกรม</div></div>
<div class="btxt" style="left:355px;top:677.8px">พิมพ์ 4 สี<br><span class="b2">1 หน้า</span></div>
<div class="btxt" style="left:454.5px;top:677.8px">พิมพ์ 4 สี<br><span class="b2">2 หน้า</span></div>
<div class="qty" style="left:288px;top:688.0px">จำนวน</div>
<div class="q" style="left:282px;top:735.1px">4000</div>
<div class="v" style="left:361px;top:732.4px">2</div>
<div class="v" style="left:460px;top:732.4px">1.5</div>
<div class="ln" style="left:293px;top:767.9px"></div>
<div class="q" style="left:282px;top:776.1px">6000</div>
<div class="v" style="left:361px;top:773.4px">0.9</div>
<div class="v" style="left:460px;top:773.4px">1.2</div>
<div class="ln" style="left:293px;top:808.9px"></div>
<div class="q q5" style="left:282px;top:817.1px">10000</div>
<div class="v" style="left:361px;top:814.4px">0.8</div>
<div class="v" style="left:460px;top:814.4px">1</div>
<div class="ln" style="left:293px;top:849.9px"></div>
<div class="q q5" style="left:282px;top:858.1px">20000</div>
<div class="v" style="left:361px;top:855.4px">0.7</div>
<div class="v" style="left:460px;top:855.4px">0.95</div>
<div class="ln" style="left:293px;top:890.9px"></div>
<div class="q q5" style="left:282px;top:899.1px">30000</div>
<div class="v" style="left:361px;top:896.4px">0.6</div>
<div class="v" style="left:460px;top:896.4px">0.7</div>
<div class="gcol" style="left:635px;top:680.5px;height:252.0px"></div>
<div class="gcol" style="left:734px;top:680.5px;height:252.0px"></div>
<svg class="abs" style="left:627px;top:663.0px" width="200" height="70" viewBox="0 0 200 70"><polygon points="0.5,11 4.5,1 4.5,11" fill="#8fc9c6"/><polygon points="196.5,11 192.5,1 192.5,11" fill="#8fc9c6"/><polygon points="0.5,11 96,11 96,52.6 48.2,66.1 0.5,52.6" fill="#d6edf6"/><polygon points="101.5,11 196.5,11 196.5,52.6 149,66.1 101.5,52.6" fill="#d6edf6"/><path d="M0.5,52.6L48.2,66.1L96,52.6M101.5,52.6L149,66.1L196.5,52.6" fill="none" stroke="#9ccfce" stroke-width="1.4"/></svg>
<div class="thead" style="left:631px;top:620.5px"><div class="h3a">การ์ด <b>250</b> แกรม</div><div class="hr"></div><div class="h3b">อาร์ตด้าน <b>300</b> แกรม</div></div>
<div class="btxt" style="left:626px;top:677.8px">พิมพ์ 4 สี<br><span class="b2">1 หน้า</span></div>
<div class="btxt" style="left:725.5px;top:677.8px">พิมพ์ 4 สี<br><span class="b2">2 หน้า</span></div>
<div class="qty" style="left:559px;top:688.0px">จำนวน</div>
<div class="q" style="left:553px;top:735.1px">4000</div>
<div class="v" style="left:632px;top:732.4px">1.8</div>
<div class="v" style="left:731px;top:732.4px">2.4</div>
<div class="ln" style="left:564px;top:767.9px"></div>
<div class="q" style="left:553px;top:776.1px">6000</div>
<div class="v" style="left:632px;top:773.4px">1.6</div>
<div class="v" style="left:731px;top:773.4px">2</div>
<div class="ln" style="left:564px;top:808.9px"></div>
<div class="q q5" style="left:553px;top:817.1px">10000</div>
<div class="v" style="left:632px;top:814.4px">1.4</div>
<div class="v" style="left:731px;top:814.4px">1.6</div>
<div class="ln" style="left:564px;top:849.9px"></div>
<div class="q q5" style="left:553px;top:858.1px">20000</div>
<div class="v" style="left:632px;top:855.4px">1.2</div>
<div class="v" style="left:731px;top:855.4px">1.4</div>
<div class="ln" style="left:564px;top:890.9px"></div>
<div class="q q5" style="left:553px;top:899.1px">30000</div>
<div class="v" style="left:632px;top:896.4px">0.9</div>
<div class="v" style="left:731px;top:896.4px">1.2</div>
<div class="note"><div style="margin-top:5.9px">*** หมายเหตุ : งาน offset &nbsp;ใช้เวลาผลิต 7-10 วัน (ขึ้นอยู่กับจำนวน)</div><div>หากเป็นงานเร่งด่วนจะลงเป็นงาน digital ในเรทราคา 2,000 ใบ ***</div></div>
<div class="foot" style="left:24px;transform-origin:0 0">**ยังไม่รวมค่าออกแบบ**</div>
<div class="foot" style="right:18.5px;transform-origin:100% 0;word-spacing:4.4px">**ราคา ต่อ 1 ใบ**</div>
</body></html>
